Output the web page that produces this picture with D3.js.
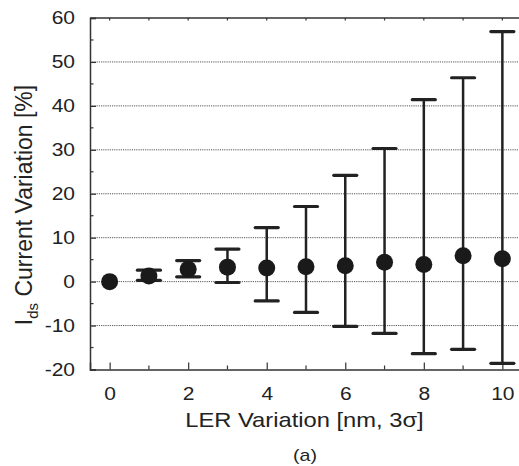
<!DOCTYPE html>
<html>
<head>
<meta charset="utf-8">
<script src="https://cdn.jsdelivr.net/npm/d3@7"></script>
<style>
  body { margin: 0; background: #fff; }
  svg { display: block; font-family: "Liberation Sans", Arial, sans-serif; }
</style>
</head>
<body>
<div id="chart"></div>
<script>
// LER variation (nm, 3 sigma) on x
const lerValues = [0, 1, 2, 3, 4, 5, 6, 7, 8, 9, 10];
// mean Ids current variation [%]
const meanVariation = [0, 1.3, 2.8, 3.3, 3.1, 3.4, 3.6, 4.4, 3.9, 5.9, 5.2];
// error bar ends
const upperVariation = [0, 2.6, 4.8, 7.4, 12.3, 17.1, 24.2, 30.3, 41.4, 46.4, 56.9];
const lowerVariation = [0, 0.3, 1.1, -0.2, -4.4, -7.0, -10.2, -11.8, -16.4, -15.4, -18.6];

const xTickLabels = [0, 2, 4, 6, 8, 10];
const yTickLabels = [-20, -10, 0, 10, 20, 30, 40, 50, 60];
const gridValues = [-10, 0, 10, 20, 30, 40, 50];

const width = 519, height = 466;
const margin = {top: 18, right: -3, bottom: 96.5, left: 90};

const svg = d3.select("#chart").append("svg")
    .attr("width", width)
    .attr("height", height);

const x = d3.scaleLinear()
    .domain([-0.5, 10.5])
    .range([margin.left, width - margin.right]);
const y = d3.scaleLinear()
    .domain([-20, 60])
    .range([height - margin.bottom, margin.top]);

const axisColor = "#333";

// stretch text horizontally a bit, the figure is a bit wide
function stretch(sel, k) {
    sel.each(function() {
        const w = this.getComputedTextLength();
        d3.select(this).attr("textLength", w * k).attr("lengthAdjust", "spacingAndGlyphs");
    });
}

// dotted grid
svg.append("g").selectAll("line")
    .data(gridValues)
    .join("line")
    .attr("x1", x(-0.5)).attr("x2", x(10.5))
    .attr("y1", d => y(d)).attr("y2", d => y(d))
    .attr("stroke", "#444")
    .attr("stroke-width", 0.9)
    .attr("stroke-dasharray", "1.2,1");

// left axis
const yAxis = svg.append("g")
    .attr("transform", "translate(" + x(-0.5) + ",0)")
    .call(d3.axisLeft(y).tickValues(yTickLabels).tickFormat(d => String(d)).tickSize(-6).tickPadding(15));
yAxis.select(".domain").attr("stroke", axisColor).attr("stroke-width", 1.5);
yAxis.selectAll(".tick line").attr("stroke", axisColor).attr("stroke-width", 1.2);
yAxis.selectAll(".tick text")
    .attr("font-size", 17.5).attr("fill", "#222").attr("font-family", "Liberation Sans, Arial, sans-serif")
    .call(stretch, 1.2);
// minor y ticks
svg.append("g").selectAll("line")
    .data(d3.range(-15, 60, 10))
    .join("line")
    .attr("x1", x(-0.5)).attr("x2", x(-0.5) + 3.5)
    .attr("y1", d => y(d)).attr("y2", d => y(d))
    .attr("stroke", axisColor).attr("stroke-width", 1.2);

// bottom axis
const xAxis = svg.append("g")
    .attr("transform", "translate(0," + y(-20) + ")")
    .call(d3.axisBottom(x).tickValues(xTickLabels).tickFormat(d => String(d)).tickSize(-7).tickPadding(18));
xAxis.select(".domain").attr("stroke", axisColor).attr("stroke-width", 1.5);
xAxis.selectAll(".tick line").attr("stroke", axisColor).attr("stroke-width", 1.2);
xAxis.selectAll(".tick text")
    .attr("font-size", 17.5).attr("fill", "#222").attr("font-family", "Liberation Sans, Arial, sans-serif")
    .call(stretch, 1.2);
svg.append("g").selectAll("line")
    .data([1, 3, 5, 7, 9])
    .join("line")
    .attr("x1", d => x(d)).attr("x2", d => x(d))
    .attr("y1", y(-20)).attr("y2", y(-20) - 4)
    .attr("stroke", axisColor).attr("stroke-width", 1.2);

// top axis with small ticks
svg.append("line")
    .attr("x1", x(-0.5)).attr("x2", x(10.5))
    .attr("y1", y(60)).attr("y2", y(60))
    .attr("stroke", axisColor).attr("stroke-width", 1.5);
svg.append("g").selectAll("line")
    .data(lerValues)
    .join("line")
    .attr("x1", d => x(d)).attr("x2", d => x(d))
    .attr("y1", y(60)).attr("y2", y(60) + 2.5)
    .attr("stroke", axisColor).attr("stroke-width", 1.2);
// right axis (mostly off the picture)
svg.append("line")
    .attr("x1", x(10.5)).attr("x2", x(10.5))
    .attr("y1", y(60)).attr("y2", y(-20))
    .attr("stroke", axisColor).attr("stroke-width", 1.5);

// error bars
const points = lerValues.map((d, i) => ({
    ler: d, mean: meanVariation[i], hi: upperVariation[i], lo: lowerVariation[i]
}));
const bars = svg.append("g").selectAll("g")
    .data(points.filter(d => d.hi !== d.lo))
    .join("g");
const barColor = "#222";
const capW = 11.5;
bars.append("line")
    .attr("x1", d => x(d.ler)).attr("x2", d => x(d.ler))
    .attr("y1", d => y(d.hi)).attr("y2", d => y(d.lo))
    .attr("stroke", barColor).attr("stroke-width", 2.5);
bars.append("line")
    .attr("x1", d => x(d.ler) - capW).attr("x2", d => x(d.ler) + capW)
    .attr("y1", d => y(d.hi)).attr("y2", d => y(d.hi))
    .attr("stroke", barColor).attr("stroke-width", 3.2).attr("stroke-linecap", "round");
bars.append("line")
    .attr("x1", d => x(d.ler) - capW).attr("x2", d => x(d.ler) + capW)
    .attr("y1", d => y(d.lo)).attr("y2", d => y(d.lo))
    .attr("stroke", barColor).attr("stroke-width", 3.2).attr("stroke-linecap", "round");

// mean markers
svg.append("g").selectAll("circle")
    .data(points)
    .join("circle")
    .attr("cx", d => x(d.ler))
    .attr("cy", d => y(d.mean))
    .attr("r", 8.5)
    .attr("fill", "#1a1a1a");

// axis titles
svg.append("text")
    .attr("x", 304.5).attr("y", 427)
    .attr("text-anchor", "middle")
    .attr("font-size", 21).attr("fill", "#222")
    .text("LER Variation [nm, 3σ]")
    .call(stretch, 1.13);

const yTitle = svg.append("text")
    .attr("transform", "translate(32,205) rotate(-90)")
    .attr("text-anchor", "middle")
    .attr("font-size", 23).attr("fill", "#222");
yTitle.append("tspan").text("I");
yTitle.append("tspan").attr("font-size", 15).attr("dy", 6).text("ds");
yTitle.append("tspan").attr("dy", -6).text(" Current Variation [%]");

svg.append("text")
    .attr("x", 305).attr("y", 461)
    .attr("text-anchor", "middle")
    .attr("font-size", 17).attr("fill", "#222")
    .text("(a)")
    .call(stretch, 1.15);
</script>
</body>
</html>
